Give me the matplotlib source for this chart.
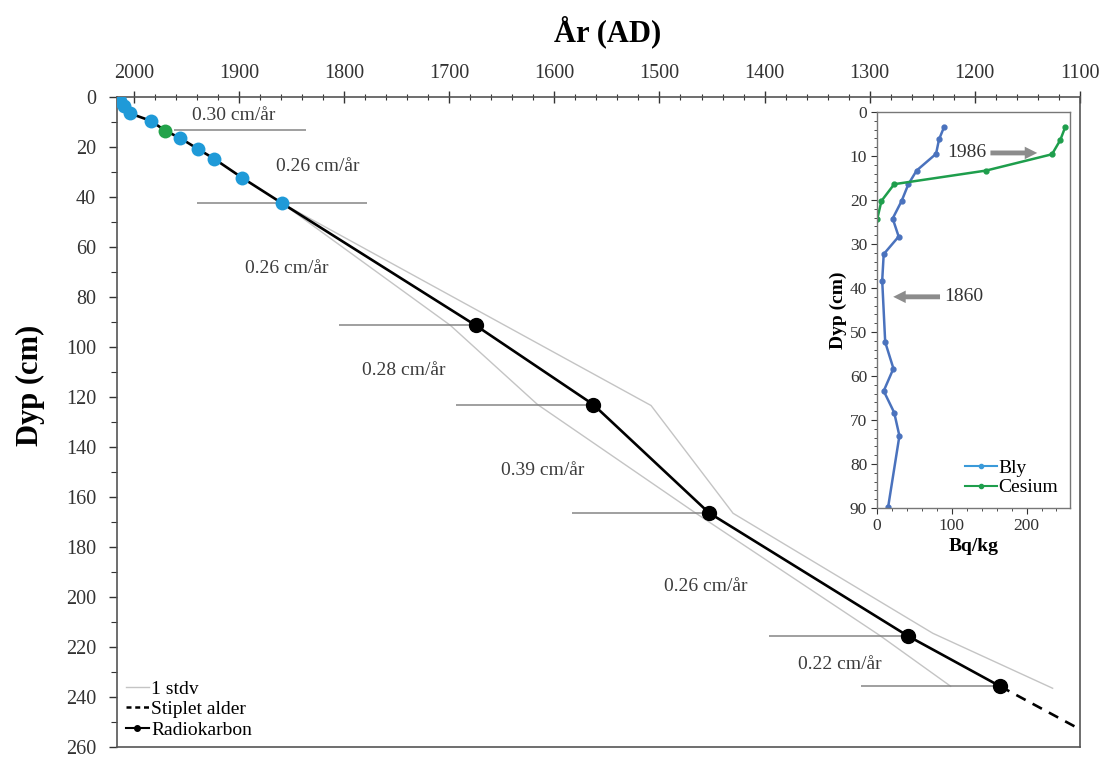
import numpy as np
import matplotlib.pyplot as plt
from matplotlib.lines import Line2D
from matplotlib.ticker import MultipleLocator

plt.rcParams['font.family'] = ['Liberation Serif', 'DejaVu Serif']

# ---------------------------------------------------------
#  Data
# ---------------------------------------------------------
# Pb-210 dated levels
pb_year = [2013, 2009, 2004, 1984, 1956, 1939, 1924, 1897, 1859]
pb_depth = [1.5, 3.5, 6.5, 9.5, 16.4, 20.8, 24.6, 32.3, 42.5]
# Cs-137 level
cs_year = [1970]
cs_depth = [13.5]
# radiocarbon dates
c14_year = [1675, 1563, 1453, 1264, 1176]
c14_depth = [91.3, 123.0, 166.3, 215.5, 235.7]

# age-depth model
model_year = [2015, 2013, 2009, 2004, 1984, 1970, 1956, 1939, 1924, 1897, 1859,
              1675, 1563, 1453, 1264, 1176]
model_depth = [0, 1.5, 3.5, 6.5, 9.5, 13.5, 16.4, 20.8, 24.6, 32.3, 42.5,
               91.3, 123.0, 166.3, 215.5, 235.7]
extrap_year = [1176, 1104]
extrap_depth = [235.7, 252.0]

# 1 stdv envelope
sd_low_year = [1859, 1699, 1616, 1466, 1290, 1223]
sd_low_depth = [42.5, 91.3, 123.0, 166.3, 215.5, 235.7]
sd_high_year = [1859, 1508, 1430, 1240, 1126]
sd_high_depth = [42.5, 123.4, 166.5, 214.5, 236.5]

# zone boundaries and sedimentation rates
zone_depth = [13.1, 42.5, 91.3, 123.0, 166.3, 215.5, 235.7]
zone_start = [1962, 1940, 1805, 1694, 1583, 1396, 1308]
zone_end = [1836, 1778, 1675, 1563, 1453, 1264, 1176]
rate_labels = ['0.30 cm/år', '0.26 cm/år', '0.26 cm/år', '0.28 cm/år',
               '0.39 cm/år', '0.26 cm/år', '0.22 cm/år']
rate_x = [1905, 1825, 1855, 1743, 1611, 1456, 1328]
rate_y = [7.5, 27.8, 68.7, 109.5, 149.2, 195.6, 227.0]

# inset: activity profiles
bly_depth = [3.3, 6.2, 9.5, 13.3, 16.4, 20.2, 24.2, 28.3, 32.3, 38.3, 52.3,
             58.3, 63.4, 68.3, 73.6, 89.7]
bly_bq = [90, 83, 79, 53, 42, 33, 21, 29, 9, 7, 11, 22, 9, 23, 30, 15]
cs_prof_depth = [3.3, 6.4, 9.6, 13.3, 16.4, 20.2, 24.2]
cs_prof_bq = [252, 245, 234, 146, 23, 6, 0.5]

# ---------------------------------------------------------
#  Main figure
# ---------------------------------------------------------
fig = plt.figure(figsize=(11.02, 7.58), dpi=100)
ax = fig.add_axes([0.1062, 0.0145, 0.8738, 0.8575])

ax.plot(sd_low_year, sd_low_depth, color='#c4c4c4', lw=1.0, zorder=1)
ax.plot(sd_high_year, sd_high_depth, color='#c4c4c4', lw=1.0, zorder=1)
ax.hlines(zone_depth, zone_start, zone_end, color='#858585', lw=1.1, zorder=1)
ax.plot(model_year, model_depth, color='black', lw=1.9, zorder=2)
ax.plot(extrap_year, extrap_depth, color='black', lw=1.9, ls=(0, (4, 3)), zorder=2)
ax.plot(pb_year, pb_depth, 'o', color='#1f9ad8', ms=10, mec='none', zorder=3)
ax.plot(cs_year, cs_depth, 'o', color='#23a34a', ms=10, mec='none', zorder=3)
ax.plot(c14_year, c14_depth, 'o', color='black', ms=10, zorder=3)

for t, x, y in zip(rate_labels, rate_x, rate_y):
    ax.text(x, y, t, fontsize=14, color='#3c3c3c', ha='center', va='center')

ax.set_xlim(2016, 1100)
ax.set_ylim(260, 0)
ax.xaxis.tick_top()
ax.set_xticks(np.arange(2000, 1099, -100))
ax.xaxis.set_minor_locator(MultipleLocator(20))
ax.yaxis.set_major_locator(MultipleLocator(20))
ax.yaxis.set_minor_locator(MultipleLocator(10))
ax.tick_params(axis='x', which='major', direction='inout', length=8, width=1,
               labelsize=14.5, pad=6, colors='#333333')
ax.tick_params(axis='x', which='minor', direction='inout', length=5, width=0.8,
               colors='#333333')
ax.tick_params(axis='y', which='major', direction='out', length=6, width=1,
               labelsize=14.5, pad=9, colors='#333333')
ax.tick_params(axis='y', which='minor', direction='out', length=4, width=0.8,
               colors='#333333')
for s in ax.spines.values():
    s.set_color('#555555')
    s.set_linewidth(1.2)

fig.text(608 / 1102, 1 - 32 / 758, 'År (AD)', fontsize=22, fontweight='bold',
         ha='center', va='center')
fig.text(30 / 1102, 1 - 385 / 758, 'Dyp (cm)', fontsize=22, fontweight='bold',
         ha='center', va='center', rotation=90)

handles = [Line2D([], [], color='#c4c4c4', lw=1.0),
           Line2D([], [], color='black', lw=1.8, ls=(0, (2, 1.5))),
           Line2D([], [], color='black', lw=1.5, marker='o', ms=4)]
ax.legend(handles, ['1 stdv', 'Stiplet alder', 'Radiokarbon'], loc='lower left',
          bbox_to_anchor=(-0.003, -0.005), frameon=False, fontsize=14,
          handlelength=1.2, handletextpad=0.1, labelspacing=0.15, borderaxespad=0.2)

# ---------------------------------------------------------
#  Inset: Pb-210 and Cs-137 profiles
# ---------------------------------------------------------
ax2 = fig.add_axes([0.7958, 0.3298, 0.1751, 0.5224])
ax2.plot(bly_bq, bly_depth, '-o', color='#4a72bd', lw=1.8, ms=3.5)
ax2.plot(cs_prof_bq, cs_prof_depth, '-o', color='#1e9e4c', lw=1.8, ms=3.5)
ax2.set_xlim(0, 258)
ax2.set_ylim(90, 0)
ax2.xaxis.set_major_locator(MultipleLocator(100))
ax2.xaxis.set_minor_locator(MultipleLocator(20))
ax2.yaxis.set_major_locator(MultipleLocator(10))
ax2.yaxis.set_minor_locator(MultipleLocator(2))
ax2.tick_params(which='major', direction='out', length=4, labelsize=12.5,
                pad=3, colors='#333333')
ax2.tick_params(which='minor', direction='out', length=2.5, colors='#333333')
for s in ax2.spines.values():
    s.set_color('#777777')
    s.set_linewidth(1.0)
ax2.set_xlabel('Bq/kg', fontsize=14, fontweight='bold', labelpad=3)
ax2.set_ylabel('Dyp (cm)', fontsize=14, fontweight='bold', labelpad=2)

arrow = dict(arrowstyle='simple,head_width=0.9,head_length=0.9,tail_width=0.35',
             color='#8c8c8c', lw=0)
ax2.annotate('', xy=(218, 9.3), xytext=(148, 9.3), arrowprops=arrow)
ax2.text(146, 9.3, '1986', fontsize=14, ha='right', va='center', color='#333333')
ax2.annotate('', xy=(18, 42), xytext=(88, 42), arrowprops=arrow)
ax2.text(90, 42, '1860', fontsize=14, ha='left', va='center', color='#333333')

leg_handles = [Line2D([], [], color='#3a9ad9', lw=1.5, marker='o', ms=3),
               Line2D([], [], color='#1e9e4c', lw=1.5, marker='o', ms=3)]
ax2.legend(leg_handles, ['Bly', 'Cesium'], loc='lower right', frameon=False,
           fontsize=14, handlelength=1.6, handletextpad=0.1, labelspacing=0.1,
           borderaxespad=0.2)

fig.savefig('out.png', dpi=100)
